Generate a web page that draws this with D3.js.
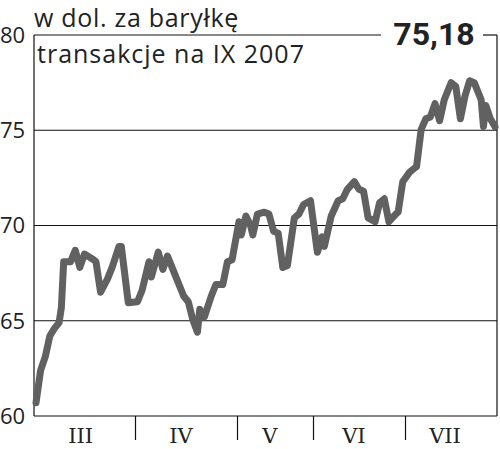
<!DOCTYPE html>
<html>
<head>
<meta charset="utf-8">
<script src="https://cdn.jsdelivr.net/npm/d3@7"></script>
<style>
  html, body { margin: 0; padding: 0; background: #fff; }
  svg { display: block; }
</style>
</head>
<body>
<div id="chart"></div>
<script>
// session number (0..199) and price
var sessions = [0, 2, 4, 6, 8, 10, 11, 12, 15, 17, 19, 21, 25, 26, 28, 31, 33, 36, 37, 40,
  44, 46, 49, 50, 53, 55, 57, 61, 64, 66, 68, 70, 71, 73, 76, 78, 81, 83, 85, 88,
  89, 91, 93, 94, 96, 99, 101, 103, 105, 107, 109, 112, 114, 116, 119, 122, 124, 125, 128, 131,
  133, 135, 138, 140, 142, 144, 147, 149, 151, 153, 156, 157, 159, 162, 164, 165, 167, 169, 171, 173,
  175, 177, 180, 182, 184, 186, 188, 190, 193, 194, 195, 197, 199]
var prices = [60.7, 62.4, 63.1, 64.2, 64.6, 64.9, 65.7, 68.1, 68.1, 68.7, 67.8, 68.5, 68.2, 68.1, 66.5, 67.2, 67.8, 68.9, 68.9, 65.95,
  66.0, 66.6, 68.1, 67.3, 68.6, 67.7, 68.4, 67.2, 66.3, 66.0, 65.05, 64.4, 65.6, 65.2, 66.3, 66.9, 66.9, 68.1, 68.2, 70.2,
  69.5, 70.5, 70.0, 69.5, 70.6, 70.7, 70.6, 69.7, 69.6, 67.8, 67.9, 70.4, 70.6, 71.1, 71.3, 68.6, 69.4, 68.9, 70.5, 71.3,
  71.4, 71.9, 72.3, 71.9, 71.8, 70.4, 70.2, 71.2, 71.4, 70.2, 70.6, 70.7, 72.3, 72.8, 73.0, 73.1, 75.05, 75.6, 75.7, 76.4,
  75.5, 76.6, 77.5, 77.3, 75.6, 76.8, 77.6, 77.5, 76.6, 75.2, 76.3, 75.6, 75.18]

var months = ['III', 'IV', 'V', 'VI', 'VII']
var monthStarts = [0, 43, 87, 120, 160]   // first session of each month
var yTicks = [60, 65, 70, 75, 80]
var lastLabel = '75,18'
var title1 = 'w dol. za baryłkę'
var title2 = 'transakcje na IX 2007'

var width = 500, height = 449
var m = {left: 34, right: 497, top: 35, bottom: 416}

var svg = d3.select('#chart').append('svg')
  .attr('width', width)
  .attr('height', height)

var x = d3.scaleLinear().domain([0, 199]).range([36, 495])
var y = d3.scaleLinear().domain([60, 80]).range([m.bottom, m.top])

// gridlines 65,70,75
svg.append('g').selectAll('line')
  .data(yTicks.filter(function(d){ return d > 60 && d < 80 }))
  .enter().append('line')
    .attr('x1', m.left).attr('x2', m.right)
    .attr('y1', function(d){ return y(d) }).attr('y2', function(d){ return y(d) })
    .attr('stroke', '#111').attr('stroke-width', 1.2)

// frame: left axis, bottom axis, right side, top with a gap for the label
var frame = svg.append('g').attr('stroke', '#111').attr('stroke-width', 1.2).attr('fill', 'none')
frame.append('line').attr('x1', m.left).attr('x2', m.left).attr('y1', m.top).attr('y2', m.bottom)
frame.append('line').attr('x1', m.left).attr('x2', m.right).attr('y1', m.bottom).attr('y2', m.bottom)
frame.append('line').attr('x1', m.right).attr('x2', m.right).attr('y1', m.top).attr('y2', m.bottom)
frame.append('line').attr('x1', m.left).attr('x2', 381).attr('y1', m.top).attr('y2', m.top)
frame.append('line').attr('x1', 483).attr('x2', m.right).attr('y1', m.top).attr('y2', m.top)

// month separators
svg.append('g').selectAll('line')
  .data(monthStarts.slice(1))
  .enter().append('line')
    .attr('x1', function(d){ return Math.round(x(d)) + 0.5 })
    .attr('x2', function(d){ return Math.round(x(d)) + 0.5 })
    .attr('y1', m.bottom).attr('y2', m.bottom + 24)
    .attr('stroke', '#111').attr('stroke-width', 1.2)

// month labels
var monthEnds = monthStarts.slice(1).concat([199])
svg.append('g').selectAll('text')
  .data(months)
  .enter().append('text')
    .attr('x', function(d, i){ return (x(monthStarts[i]) + x(monthEnds[i])) / 2 - 5 })
    .attr('y', 443)
    .attr('text-anchor', 'middle')
    .attr('font-family', 'DejaVu Serif')
    .attr('font-size', '21px')
    .attr('fill', '#222')
    .text(function(d){ return d })

// y labels
svg.append('g').selectAll('text')
  .data(yTicks)
  .enter().append('text')
    .attr('x', 0)
    .attr('y', function(d){ return y(d) })
    .attr('dy', '0.36em')
    .attr('font-family', 'Open Sans')
    .attr('font-size', '22px')
    .attr('fill', '#222')
    .text(function(d){ return d })

// price line
var line = d3.line()
  .x(function(d, i){ return x(sessions[i]) })
  .y(function(d){ return y(d) })

svg.append('path')
  .datum(prices)
  .attr('d', line)
  .attr('fill', 'none')
  .attr('stroke', '#616161')
  .attr('stroke-width', 7)
  .attr('stroke-linejoin', 'round')
  .attr('stroke-linecap', 'round')

// titles
svg.append('text')
  .attr('x', 34).attr('y', 27)
  .attr('font-family', 'Open Sans')
  .attr('font-size', '25px').attr('letter-spacing', '0.7px').attr('fill', '#222')
  .text(title1)
svg.append('text')
  .attr('x', 37).attr('y', 63)
  .attr('font-family', 'Open Sans')
  .attr('font-size', '25px').attr('letter-spacing', '1px').attr('fill', '#222')
  .text(title2)

// last value
svg.append('text')
  .attr('x', 434).attr('y', 45)
  .attr('text-anchor', 'middle')
  .attr('font-family', 'Roboto').attr('font-weight', 700)
  .attr('font-size', '32px').attr('fill', '#222')
  .text(lastLabel)
</script>
</body>
</html>
